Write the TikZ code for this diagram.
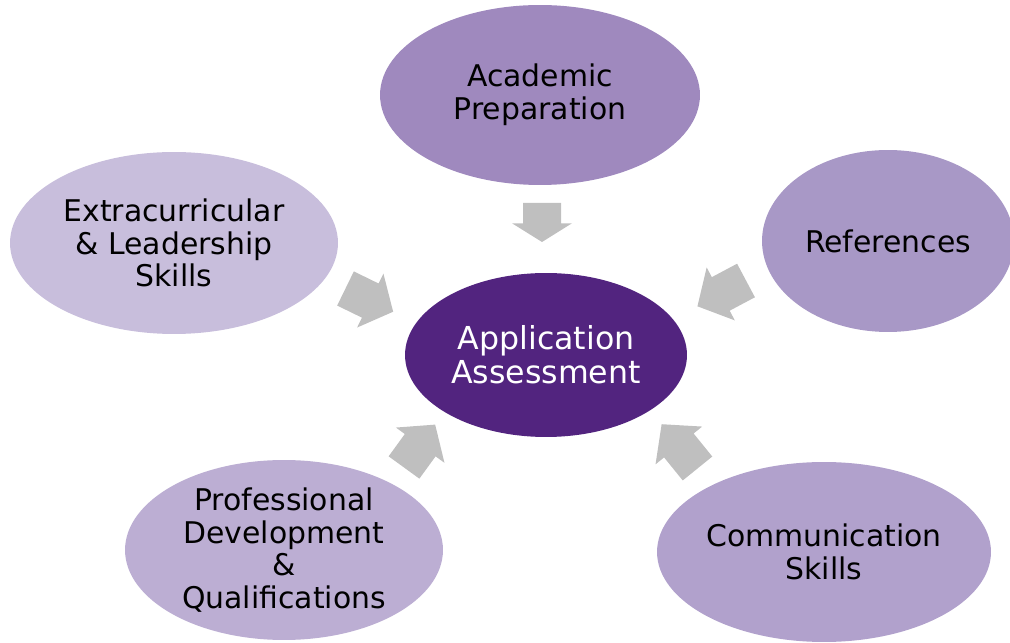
\documentclass[tikz,border=0pt]{standalone}
\usepackage{fontspec}
\setmainfont{DejaVu Sans}
\usetikzlibrary{shapes.geometric}

\definecolor{assessdark}{HTML}{52247F}
\definecolor{academicpurple}{HTML}{9F89BE}
\definecolor{extrapurple}{HTML}{C8BEDC}
\definecolor{refpurple}{HTML}{A898C6}
\definecolor{profpurple}{HTML}{BCAED3}
\definecolor{commpurple}{HTML}{B1A1CC}
\definecolor{arrowgray}{HTML}{BFBFBF}

\tikzset{
  blob/.style={ellipse, draw=none, align=center, text=black,
    font=\fontsize{17}{18.5}\selectfont, inner sep=0pt},
}

% block arrow: x, y of the tail, angle, length
\newcommand{\blockarrow}[4]{%
  \fill[arrowgray, shift={(#1,#2)}, rotate=#3]
    (0,-19) -- ({0.52*#4},-19) -- ({0.52*#4},-30) -- (#4,0)
    -- ({0.52*#4},30) -- ({0.52*#4},19) -- (0,19) -- cycle;
}

\begin{document}
\begin{tikzpicture}[x=0.02cm,y=0.02cm]

\useasboundingbox (0,0) rectangle (1010,642);

\node[blob, fill=assessdark, text=white, minimum width=5.64cm, minimum height=3.28cm,
  font=\fontsize{18}{19.5}\selectfont]
  (assess) at (546,287) {Application\\Assessment};

\node[blob, fill=academicpurple, minimum width=6.4cm, minimum height=3.6cm]
  (academic) at (540,547) {Academic\\Preparation};
\node[blob, fill=extrapurple, minimum width=6.56cm, minimum height=3.64cm]
  (extra) at (174,399) {Extracurricular\\\& Leadership\\Skills};
\node[blob, fill=refpurple, minimum width=5.04cm, minimum height=3.64cm]
  (refs) at (888,401) {References};
\node[blob, fill=profpurple, minimum width=6.36cm, minimum height=3.6cm]
  (prof) at (284,92) {Professional\\Development\\\&\\Qualifications};
\node[blob, fill=commpurple, minimum width=6.68cm, minimum height=3.6cm]
  (comm) at (824,90) {Communication\\Skills};

\blockarrow{542}{439}{-90}{39}
\blockarrow{345.5}{353.5}{-26}{53}
\blockarrow{746}{361.5}{208}{55}
\blockarrow{404}{174.5}{54}{53}
\blockarrow{697.5}{173.5}{129}{57}

\end{tikzpicture}
\end{document}
